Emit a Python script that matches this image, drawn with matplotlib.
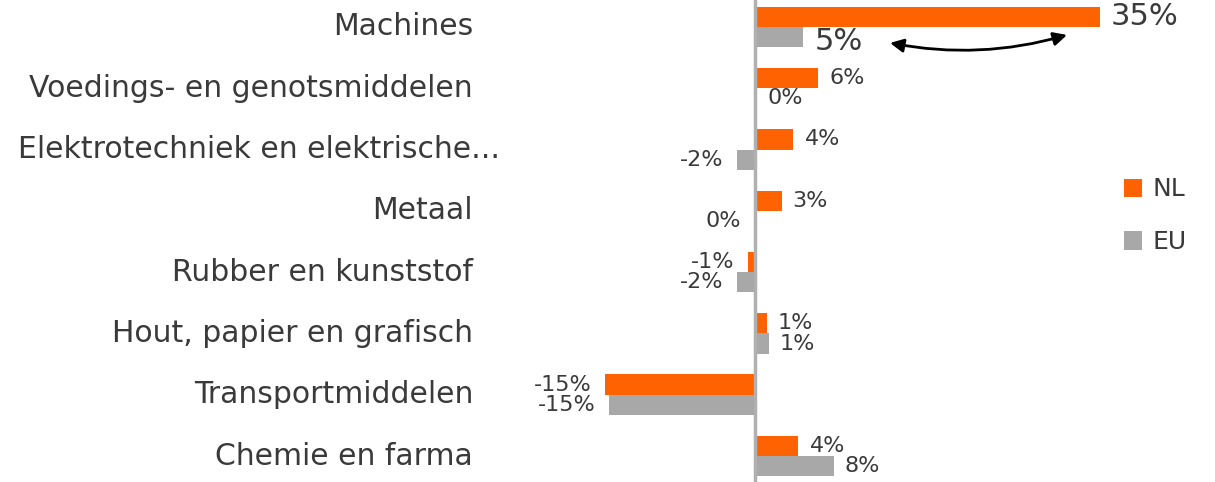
import numpy as np
import matplotlib.pyplot as plt

plt.rcParams['font.family'] = ['DejaVu Sans']

categories = ["Machines", "Voedings- en genotsmiddelen", "Elektrotechniek en elektrische...",
              "Metaal", "Rubber en kunststof", "Hout, papier en grafisch",
              "Transportmiddelen", "Chemie en farma"]
nl = [35.0, 6.4, 3.9, 2.7, -0.7, 1.2, -15.2, 4.4]
eu = [4.9, 0.1, -1.8, -0.05, -1.8, 1.4, -14.8, 8.0]

orange = '#FF6200'
grey = '#A8A8A8'
txt = '#3a3a3a'

W, H = 1215, 482
fig = plt.figure(figsize=(W / 100, H / 100), dpi=100)
x0, ppu = 755, 9.85          # pixel of zero and pixels per percent
L, R = 560, 1215
ax = fig.add_axes([L / W, 0, (R - L) / W, 1])
ax.set_xlim((L - x0) / ppu, (R - x0) / ppu)
row = 61.3
ax.set_ylim(7 + (H - 456) / row, -27 / row)

y = np.arange(len(categories))
h = 0.33
ax.barh(y - h / 2, nl, height=h, color=orange, label='NL')
ax.barh(y + h / 2, eu, height=h, color=grey, label='EU')
ax.axvline(0, color='#b0b0b0', lw=2.5)

for s in ax.spines.values():
    s.set_visible(False)
ax.set_xticks([])
ax.set_yticks([])

# category labels
lab_x = (473 - x0) / ppu
for i, c in enumerate(categories):
    xx = lab_x
    if c.startswith('Elektro'):
        xx = (500 - x0) / ppu
    ax.text(xx, i, c, ha='right', va='center', fontsize=21.5, color=txt, clip_on=False)

# value labels
for vals, off in ((nl, -h / 2), (eu, h / 2)):
    for i, v in enumerate(vals):
        big = i == 0
        ax.annotate(f"{round(v):d}%", (v, i + off),
                    xytext=(8 if v >= 0 else -10, -3 if (big and off > 0) else 0),
                    textcoords='offset points', ha='left' if v >= 0 else 'right',
                    va='center', fontsize=22 if big else 16, color=txt)

# arrow between NL and EU machines
ax.annotate('', xy=((1067 - x0) / ppu, 0.13), xytext=((890 - x0) / ppu, 0.26),
            arrowprops=dict(arrowstyle='<|-|>', color='black', lw=2,
                            connectionstyle='arc3,rad=0.12', mutation_scale=20,
                            shrinkA=0, shrinkB=0))

fig.legend(loc='upper left', bbox_to_anchor=(1101 / W, 1 - 155 / H), frameon=False,
           fontsize=18, handlelength=0.75, handleheight=0.75, handletextpad=0.4,
           labelspacing=1.15, labelcolor=txt)

fig.savefig('out.png', dpi=100)
